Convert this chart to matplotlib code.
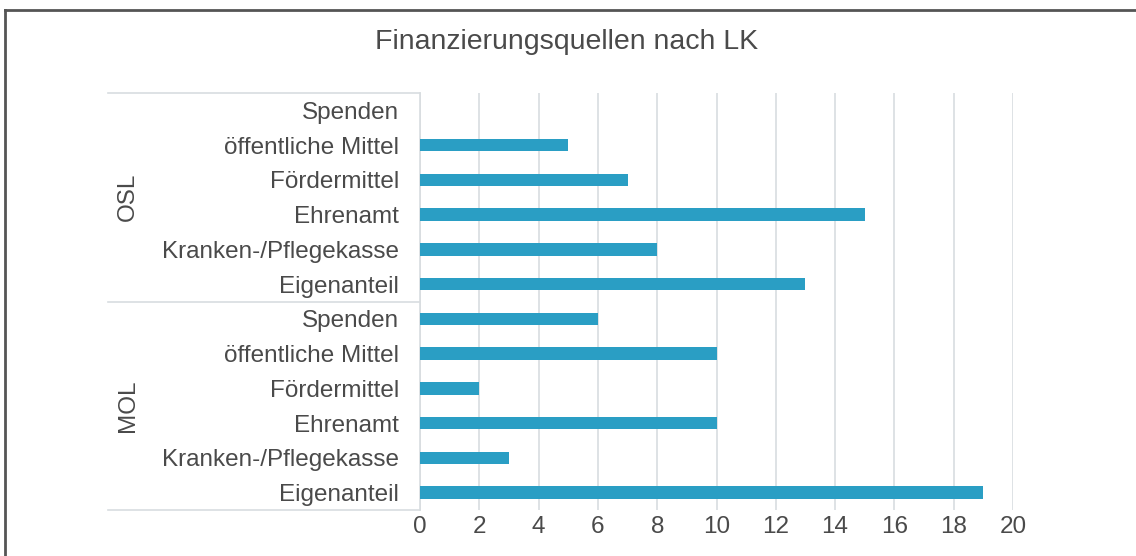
import matplotlib
matplotlib.use("Agg")
import matplotlib.pyplot as plt
import matplotlib.transforms as mtransforms
from matplotlib.lines import Line2D

# -------------------------------
# Daten
# -------------------------------
kategorien = ["Spenden", "öffentliche Mittel", "Fördermittel", "Ehrenamt",
              "Kranken-/Pflegekasse", "Eigenanteil"]
gruppen = ["OSL", "MOL"]
werte_osl = [0, 5, 7, 15, 8, 13]
werte_mol = [6, 10, 2, 10, 3, 19]
x_ticks = [0, 2, 4, 6, 8, 10, 12, 14, 16, 18, 20]

titel = "Finanzierungsquellen nach LK"

bar_color = "#2a9ec4"
text_color = "#4a4a4a"
grid_color = "#d8dde0"

plt.rcParams['font.family'] = ['Liberation Sans', 'DejaVu Sans']

labels = kategorien + kategorien
values = werte_osl + werte_mol
pos = list(range(len(labels)))

fig = plt.figure(figsize=(11.36, 5.56), dpi=100)
ax = fig.add_axes([420 / 1136, 1 - 510 / 556, 593 / 1136, 417 / 556])

ax.barh(pos, values, height=0.36, color=bar_color, zorder=3)

ax.set_xlim(0, 20)
ax.set_ylim(len(labels) - 0.5, -0.5)
ax.set_xticks(x_ticks)
ax.set_xticklabels([str(t) for t in x_ticks])
ax.set_yticks(pos)
ax.set_yticklabels(labels)
ax.tick_params(axis='y', length=0, pad=15, labelsize=17.5, labelcolor=text_color)
ax.tick_params(axis='x', length=0, pad=4, labelsize=17.5, labelcolor=text_color)

ax.grid(axis='x', color=grid_color, linewidth=1.2, zorder=0)
for s in ["top", "right", "bottom"]:
    ax.spines[s].set_visible(False)
ax.spines["left"].set_color(grid_color)
ax.spines["left"].set_linewidth(1.2)

# Gruppentrennlinien links
trans = mtransforms.blended_transform_factory(ax.transAxes, ax.transData)
x_left = (108 - 420) / 593
for yy in [-0.5, 5.5, 11.5]:
    ax.plot([x_left, 0], [yy, yy], color=grid_color, linewidth=1.2,
            transform=trans, clip_on=False)

# Gruppenbeschriftungen
x_grp = (128 - 420) / 593
for i, g in enumerate(gruppen):
    ax.text(x_grp, 2.5 + 6 * i, g, transform=trans, rotation=90,
            ha='center', va='center', fontsize=17.5, color=text_color)

fig.text(567 / 1136, 1 - 42 / 556, titel, ha='center', va='center',
         fontsize=20.5, color=text_color)

# Rahmen oben und links
fig.add_artist(Line2D([5 / 1136, 1], [1 - 10 / 556, 1 - 10 / 556],
                      color="#555555", linewidth=2, transform=fig.transFigure))
fig.add_artist(Line2D([5 / 1136, 5 / 1136], [0, 1 - 10 / 556],
                      color="#555555", linewidth=2, transform=fig.transFigure))

fig.savefig("out.png", dpi=100)
